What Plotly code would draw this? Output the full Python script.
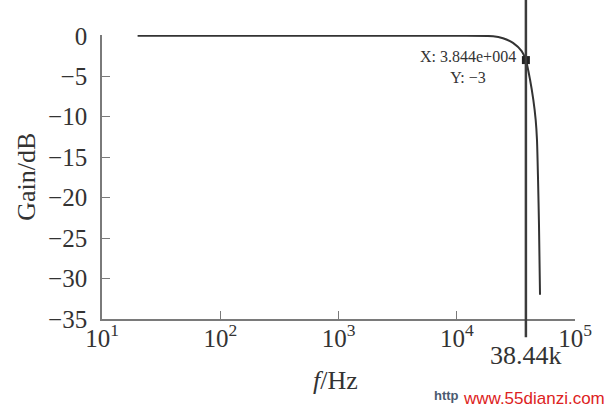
import numpy as np
import plotly.graph_objects as go

# ---- data ----
freq_hz = [20, 100, 1000, 10000, 20300, 24600, 29900, 35400, 38440,
           41640, 44400, 46500, 47700, 48700, 49600, 50600]
gain_db = [0, 0, 0, 0, -0.05, -0.3, -0.87, -1.9, -3.0,
           -5.4, -7.9, -10.4, -12.85, -17.8, -23.4, -32.0]
cutoff_freq = 38440
cutoff_gain = -3
x_tick_vals = [10, 100, 1000, 10000, 100000]
x_tick_text = ["10<sup>1</sup>", "10<sup>2</sup>", "10<sup>3</sup>",
               "10<sup>4</sup>", "10<sup>5</sup>"]
y_tick_vals = [0, -5, -10, -15, -20, -25, -30, -35]
cutoff_label = "38.44k"
tip_text = "X: 3.844e+004<br>Y: \u22123"

SERIF = "Liberation Serif"
SANS = "Liberation Sans"
AX_COL = "#7a7a7a"
TXT = "#333333"

fig = go.Figure()
fig.add_trace(go.Scatter(
    x=freq_hz, y=gain_db, mode="lines",
    line=dict(color="#333333", width=2, shape="spline", smoothing=0.6),
    showlegend=False, hoverinfo="skip"))
fig.add_trace(go.Scatter(
    x=[cutoff_freq], y=[cutoff_gain], mode="markers",
    marker=dict(symbol="square", size=8, color="#222222"),
    showlegend=False, cliponaxis=False, hoverinfo="skip"))

fig.add_shape(type="line", xref="x", yref="paper",
              x0=cutoff_freq, x1=cutoff_freq, y0=-0.064, y1=1.13,
              line=dict(color="#3c3c3c", width=2.5), layer="above")

fig.update_xaxes(type="log", range=[1, 5], tickmode="array",
                 tickvals=x_tick_vals, ticktext=x_tick_text,
                 ticks="inside", ticklen=8, tickwidth=1.2, tickcolor=AX_COL,
                 showline=True, linecolor=AX_COL, linewidth=1.6,
                 showgrid=False, zeroline=False,
                 tickfont=dict(family=SERIF, size=25, color=TXT),
                 ticklabelstandoff=-4)
fig.update_yaxes(range=[-35, 0.1], tickmode="array", tickvals=y_tick_vals,
                 ticks="inside", ticklen=8, tickwidth=1.2, tickcolor=AX_COL,
                 showline=True, linecolor=AX_COL, linewidth=1.6,
                 showgrid=False, zeroline=False,
                 tickfont=dict(family=SERIF, size=25, color=TXT),
                 ticklabelstandoff=8)

annos = [
    dict(x=np.log10(cutoff_freq), y=-0.127, xref="x", yref="paper",
         text=cutoff_label, showarrow=False, xanchor="center", yanchor="middle",
         font=dict(family=SERIF, size=26, color=TXT)),
    dict(x=np.log10(cutoff_freq), y=cutoff_gain, xref="x", yref="y",
         text=tip_text, showarrow=False, xanchor="right", yanchor="middle",
         align="center", xshift=-8, yshift=-7,
         font=dict(family=SERIF, size=16, color=TXT)),
    dict(x=-0.161, y=0.5, xref="paper", yref="paper", text="Gain/dB",
         textangle=-90, showarrow=False, xanchor="center", yanchor="middle",
         font=dict(family=SERIF, size=26, color=TXT)),
    dict(x=0.494, y=-0.215, xref="paper", yref="paper", text="<i>f</i>/Hz",
         showarrow=False, xanchor="center", yanchor="middle",
         font=dict(family=SERIF, size=26, color=TXT)),
    dict(x=0.698, y=-0.27, xref="paper", yref="paper", text="<b>http</b>",
         showarrow=False, xanchor="left", yanchor="middle",
         font=dict(family=SANS, size=13, color="#4a5a70")),
    dict(x=1.068, y=-0.28, xref="paper", yref="paper", text="www.55dianzi.com",
         showarrow=False, xanchor="right", yanchor="middle",
         font=dict(family=SANS, size=17, color="#dd2222")),
]
fig.update_layout(width=611, height=410, margin=dict(l=102, r=36, t=35, b=91),
                  paper_bgcolor="white", plot_bgcolor="white",
                  font=dict(family=SERIF, color=TXT),
                  annotations=annos)
fig.write_html("out.html",
               config={"displayModeBar": False},
               post_script="document.body.style.margin='0';"
                           "document.body.style.overflow='hidden';")
